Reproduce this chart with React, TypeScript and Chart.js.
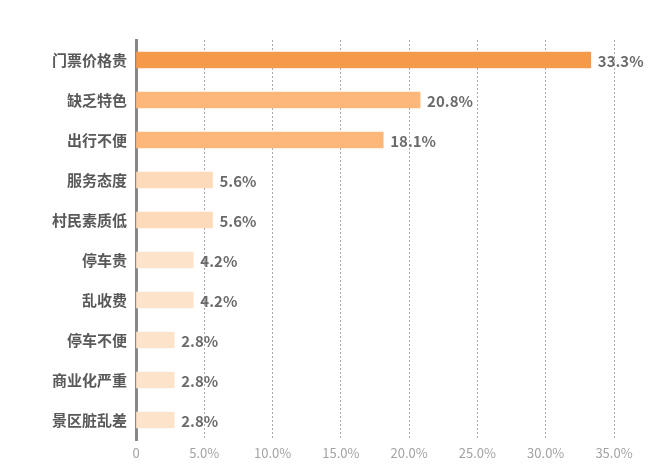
import React, { useEffect, useRef } from 'react';
import { Chart, registerables } from 'chart.js';

Chart.register(...registerables);

// Data
const categories = ['门票价格贵', '缺乏特色', '出行不便', '服务态度', '村民素质低', '停车贵', '乱收费', '停车不便', '商业化严重', '景区脏乱差'];
const shares = [33.3, 20.8, 18.1, 5.6, 5.6, 4.2, 4.2, 2.8, 2.8, 2.8];
const barColors = ['#F5994B', '#FDB77B', '#FDB77B', '#FCDABA', '#FCDABA', '#FDE3CA', '#FDE3CA', '#FDE3CA', '#FDE3CA', '#FDE3CA'];

const FONT = '"Noto Sans CJK SC", "Noto Sans", sans-serif';

// draws the percentage next to each bar
const valueLabels = {
  id: 'valueLabels',
  afterDatasetsDraw(chart: any) {
    const ctx = chart.ctx;
    const meta = chart.getDatasetMeta(0);
    ctx.save();
    ctx.font = `bold 15px ${FONT}`;
    ctx.fillStyle = '#6b6b6b';
    ctx.textAlign = 'left';
    ctx.textBaseline = 'middle';
    meta.data.forEach((bar: any, i: number) => {
      ctx.fillText(shares[i].toFixed(1) + '%', bar.x + 7, bar.y + 1);
    });
    ctx.restore();
  },
};

const App: React.FC = () => {
  const canvasRef = useRef<HTMLCanvasElement>(null);

  useEffect(() => {
    document.body.style.margin = '0';
    if (!canvasRef.current) return;

    const chart = new Chart(canvasRef.current, {
      type: 'bar',
      data: {
        labels: categories,
        datasets: [
          {
            data: shares,
            backgroundColor: barColors,
            barThickness: 16,
          },
        ],
      },
      options: {
        indexAxis: 'y',
        animation: false,
        responsive: true,
        maintainAspectRatio: false,
        layout: { padding: { top: 40, right: 36, left: 0, bottom: 0 } },
        plugins: {
          legend: { display: false },
          tooltip: { enabled: false },
        },
        scales: {
          x: {
            min: 0,
            max: 35,
            afterFit(scale: any) {
              scale.height = 31;
            },
            ticks: {
              stepSize: 5,
              padding: 5,
              color: '#a3a3a3',
              font: { family: FONT, size: 13 },
              callback: (v: any) => (v === 0 ? '0' : Number(v).toFixed(1) + '%'),
            },
            grid: {
              color: '#a8a8a8',
              lineWidth: 1,
              drawTicks: false,
            },
            border: { display: false, dash: [2, 2] },
          },
          y: {
            afterFit(scale: any) {
              scale.width = 136;
            },
            ticks: {
              padding: 9,
              color: '#595959',
              font: { family: FONT, size: 15, weight: 'bold' },
            },
            grid: { display: false, drawTicks: false },
            border: { display: true, color: '#888888', width: 3 },
          },
        },
      },
      plugins: [valueLabels],
    });

    return () => {
      chart.destroy();
    };
  }, []);

  return (
    <div style={{ width: 650, height: 471, position: 'relative', background: '#ffffff' }}>
      <canvas ref={canvasRef} />
    </div>
  );
};

export default App;
